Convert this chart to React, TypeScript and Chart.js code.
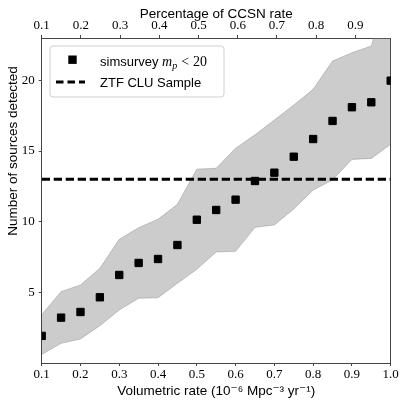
import React, { useEffect, useRef } from "react";
import { Chart, registerables } from "chart.js";

Chart.register(...registerables);

// ---- data ----
const RATES = [0.1, 0.15, 0.2, 0.25, 0.3, 0.35, 0.4, 0.45, 0.5, 0.55, 0.6, 0.65, 0.7, 0.75, 0.8, 0.85, 0.9, 0.95, 1.0];
const SIM_DETECTED = [1.92, 3.21, 3.61, 4.65, 6.23, 7.08, 7.36, 8.35, 10.14, 10.83, 11.56, 12.88, 13.47, 14.6, 15.85, 17.13, 18.1, 18.45, 19.98];
const SIM_UPPER = [3.42, 5.05, 5.52, 6.7, 8.75, 9.58, 10.17, 11.23, 13.72, 13.78, 15.2, 16.15, 17.2, 18.25, 19.37, 21.37, 21.96, 22.43, 27];
const SIM_LOWER = [0.6, 1.39, 1.7, 2.64, 3.75, 4.58, 4.62, 5.64, 6.63, 7.86, 7.9, 9.6, 9.77, 10.9, 12.24, 12.95, 14.41, 14.48, 15.48];
const CLU_SAMPLE = 13;
const X_TICKS = [0.1, 0.2, 0.3, 0.4, 0.5, 0.6, 0.7, 0.8, 0.9, 1.0];
const TOP_TICKS = [0.1, 0.2, 0.3, 0.4, 0.5, 0.6, 0.7, 0.8, 0.9];
const Y_TICKS = [5, 10, 15, 20];
const X_RANGE = [0.1, 1.0];
const TOP_RANGE = [0.1, 0.99];
const Y_RANGE = [0, 23];

const SERIF = "'Liberation Serif', 'DejaVu Serif', serif";
const SANS = "'Liberation Sans', 'DejaVu Sans', sans-serif";
const SPINE = "#444";

const overlayPlugin = {
  id: "overlay",
  afterDraw(chart: any) {
    const ctx = chart.ctx as CanvasRenderingContext2D;
    ctx.save();
    // y-axis title
    ctx.translate(13, 151);
    ctx.rotate(-Math.PI / 2);
    ctx.font = `13.5px ${SANS}`;
    ctx.fillStyle = "#000";
    ctx.textAlign = "center";
    ctx.textBaseline = "middle";
    ctx.fillText("Number of sources detected", 0, 0);
    ctx.restore();

    // legend
    ctx.save();
    const bx = 50, by = 46, bw = 174, bh = 51, r = 3;
    ctx.beginPath();
    ctx.moveTo(bx + r, by);
    ctx.lineTo(bx + bw - r, by);
    ctx.quadraticCurveTo(bx + bw, by, bx + bw, by + r);
    ctx.lineTo(bx + bw, by + bh - r);
    ctx.quadraticCurveTo(bx + bw, by + bh, bx + bw - r, by + bh);
    ctx.lineTo(bx + r, by + bh);
    ctx.quadraticCurveTo(bx, by + bh, bx, by + bh - r);
    ctx.lineTo(bx, by + r);
    ctx.quadraticCurveTo(bx, by, bx + r, by);
    ctx.closePath();
    ctx.fillStyle = "rgba(255,255,255,0.8)";
    ctx.fill();
    ctx.strokeStyle = "#d0d0d0";
    ctx.lineWidth = 1;
    ctx.stroke();

    // row 1: marker
    ctx.fillStyle = "#000";
    ctx.fillRect(68.3, 55.5, 8.4, 8.4);
    ctx.textBaseline = "alphabetic";
    ctx.textAlign = "left";
    let x = 100;
    const base1 = 66;
    ctx.font = `13px ${SANS}`;
    ctx.fillText("simsurvey ", x, base1);
    x += ctx.measureText("simsurvey ").width;
    ctx.font = `italic 14px ${SERIF}`;
    ctx.fillText("m", x, base1);
    x += ctx.measureText("m").width;
    ctx.font = `italic 10px ${SERIF}`;
    ctx.fillText("p", x, base1 + 3);
    x += ctx.measureText("p").width + 4;
    ctx.font = `14px ${SERIF}`;
    ctx.fillText("<", x, base1);
    x += ctx.measureText("<").width + 4;
    ctx.fillText("20", x, base1);

    // row 2: dashed line
    ctx.beginPath();
    ctx.setLineDash([7.5, 4]);
    ctx.lineWidth = 3;
    ctx.strokeStyle = "#000";
    ctx.moveTo(56, 82);
    ctx.lineTo(85, 82);
    ctx.stroke();
    ctx.setLineDash([]);
    ctx.font = `13px ${SANS}`;
    ctx.fillText("ZTF CLU Sample", 100, 87);
    ctx.restore();
  },
};

export default function App() {
  const ref = useRef<HTMLCanvasElement>(null);
  useEffect(() => {
    if (!ref.current) return;
    const band = "rgba(128,128,128,0.4)";
    const chart = new Chart(ref.current, {
      type: "line",
      data: {
        datasets: [
          {
            label: "simsurvey",
            type: "scatter",
            data: RATES.map((r, i) => ({ x: r, y: SIM_DETECTED[i] })),
            pointStyle: "rect",
            pointRadius: 5.2,
            pointBackgroundColor: "#000",
            pointBorderColor: "#000",
            pointBorderWidth: 1,
            showLine: false,
            clip: 0,
            order: 0,
          } as any,
          {
            label: "ZTF CLU Sample",
            data: [
              { x: X_RANGE[0], y: CLU_SAMPLE },
              { x: X_RANGE[1], y: CLU_SAMPLE },
            ],
            borderColor: "#000",
            borderWidth: 3,
            borderDash: [8.3, 3.7],
            pointRadius: 0,
            fill: false,
            clip: 0,
            order: 1,
          } as any,
          {
            label: "upper",
            data: RATES.map((r, i) => ({ x: r, y: SIM_UPPER[i] })),
            borderColor: band,
            borderWidth: 1,
            backgroundColor: band,
            pointRadius: 0,
            fill: { target: 3 },
            tension: 0,
            clip: 0,
            order: 2,
          } as any,
          {
            label: "lower",
            data: RATES.map((r, i) => ({ x: r, y: SIM_LOWER[i] })),
            borderColor: band,
            borderWidth: 1,
            pointRadius: 0,
            fill: false,
            tension: 0,
            clip: 0,
            order: 3,
          } as any,
        ],
      },
      options: {
        responsive: false,
        animation: false,
        devicePixelRatio: 1,
        layout: { padding: 0 },
        plugins: {
          legend: { display: false },
          tooltip: { enabled: false },
        },
        scales: {
          x: {
            type: "linear",
            position: "bottom",
            min: X_RANGE[0],
            max: X_RANGE[1],
            afterBuildTicks: (s: any) => {
              s.ticks = X_TICKS.map((v) => ({ value: v }));
            },
            afterFit: (s: any) => {
              s.height = 44;
            },
            ticks: {
              font: { family: SERIF, size: 13 },
              color: "#000",
              padding: 1,
              maxRotation: 0,
              autoSkip: false,
              callback: (v: any) => Number(v).toFixed(1),
            },
            grid: { drawOnChartArea: false, drawTicks: true, tickLength: 3, color: SPINE },
            border: { display: true, color: SPINE, width: 1 },
            title: {
              display: true,
              text: "Volumetric rate (10⁻⁶ Mpc⁻³ yr⁻¹)",
              font: { family: SANS, size: 13.5 },
              color: "#000",
              padding: { top: 0, bottom: 8 },
            },
          },
          x2: {
            type: "linear",
            position: "top",
            min: TOP_RANGE[0],
            max: TOP_RANGE[1],
            afterBuildTicks: (s: any) => {
              s.ticks = TOP_TICKS.map((v) => ({ value: v }));
            },
            afterFit: (s: any) => {
              s.height = 38;
            },
            ticks: {
              font: { family: SERIF, size: 13 },
              color: "#000",
              padding: 1.5,
              maxRotation: 0,
              autoSkip: false,
              callback: (v: any) => Number(v).toFixed(1),
            },
            grid: { drawOnChartArea: false, drawTicks: true, tickLength: 3, color: SPINE },
            border: { display: true, color: SPINE, width: 1 },
            title: {
              display: true,
              text: "Percentage of CCSN rate",
              font: { family: SANS, size: 13.5 },
              color: "#000",
              padding: { top: 6, bottom: 0 },
            },
          },
          y: {
            type: "linear",
            position: "left",
            min: Y_RANGE[0],
            max: Y_RANGE[1],
            afterBuildTicks: (s: any) => {
              s.ticks = Y_TICKS.map((v) => ({ value: v }));
            },
            afterFit: (s: any) => {
              s.width = 41.7;
            },
            ticks: {
              font: { family: SERIF, size: 13 },
              color: "#000",
              padding: 4,
              autoSkip: false,
            },
            grid: { drawOnChartArea: false, drawTicks: true, tickLength: 3, color: SPINE },
            border: { display: true, color: SPINE, width: 1 },
          },
          y2: {
            type: "linear",
            position: "right",
            min: Y_RANGE[0],
            max: Y_RANGE[1],
            afterFit: (s: any) => {
              s.width = 16.3;
            },
            ticks: { display: false },
            grid: { drawOnChartArea: false, drawTicks: false },
            border: { display: true, color: SPINE, width: 1 },
          },
        },
      } as any,
      plugins: [overlayPlugin],
    });
    return () => chart.destroy();
  }, []);

  return (
    <div style={{ position: "fixed", left: 0, top: 0, width: 407, height: 407, background: "#fff" }}>
      <canvas ref={ref} width={407} height={407} style={{ width: 407, height: 407, display: "block" }} />
    </div>
  );
}
